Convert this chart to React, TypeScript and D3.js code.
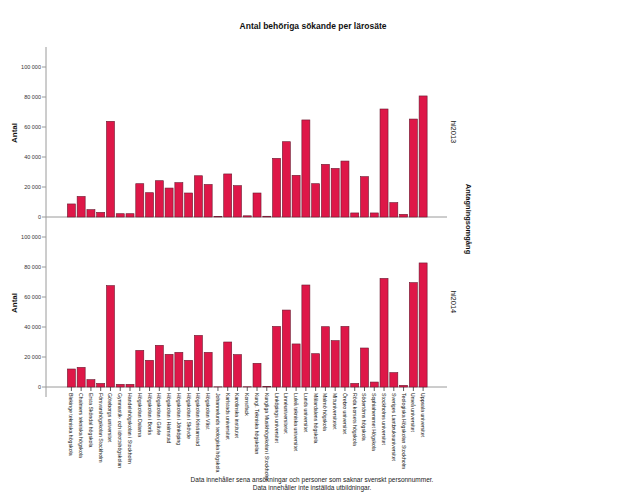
import React from "react";
import * as d3 from "d3";

const categories: string[] = [
  "Blekinge tekniska högskola",
  "Chalmers tekniska högskola",
  "Ersta Sköndal högskola",
  "Försvarshögskolan Stockholm",
  "Göteborgs universitet",
  "Gymnastik- och idrottshögskolan",
  "Handelshögskolan i Stockholm",
  "Högskolan Dalarna",
  "Högskolan i Borås",
  "Högskolan i Gävle",
  "Högskolan i Halmstad",
  "Högskolan i Jönköping",
  "Högskolan i Skövde",
  "Högskolan Kristianstad",
  "Högskolan Väst",
  "Johannelunds teologiska högskola",
  "Karlstads universitet",
  "Karolinska institutet",
  "Konstfack",
  "Kungl. Tekniska högskolan",
  "Kungliga Musikhögskolan i Stockholm",
  "Linköpings universitet",
  "Linnéuniversitetet",
  "Luleå tekniska universitet",
  "Lunds universitet",
  "Mälardalens högskola",
  "Malmö högskola",
  "Mittuniversitetet",
  "Örebro universitet",
  "Röda korsets högskola",
  "Södertörns högskola",
  "Sophiahemmet Högskola",
  "Stockholms universitet",
  "Sveriges Lantbruksuniversitet",
  "Teologiska Högskolan Stockholm",
  "Umeå universitet",
  "Uppsala universitet",
];

const ht2013: number[] = [
  8700, 13700, 4900, 3100, 63800, 2200, 2200, 22200, 16200, 24200, 19300, 22900,
  16000, 27500, 21700, 400, 28700, 20900, 800, 16000, 500, 39100, 50200, 27800,
  64700, 22200, 35100, 32400, 37300, 2700, 26900, 2700, 72000, 9600, 1800, 65300,
  80700,
];

const ht2014: number[] = [
  12000, 13100, 4900, 2400, 67600, 1800, 1800, 24400, 17800, 27800, 21800, 23100,
  17800, 34400, 23100, 100, 30000, 21600, 150, 15800, 300, 40400, 51300, 28700,
  68000, 22200, 40200, 30900, 40400, 2400, 26000, 3300, 72400, 9600, 1100, 69600,
  82700,
];

const panelLabels: string[] = ["hl2013", "hl2014"];
const yTicks: number[] = [0, 20000, 40000, 60000, 80000, 100000];

const W = 627;
const H = 501;
const FONT = "'Liberation Sans', Arial, sans-serif";
const BAR = "#DE1748";
const BAR_STROKE = "#6b1a30";
const AXIS = "#9a9a9a";

const fmt = (v: number) => (v === 0 ? "0" : d3.format(",")(v).replace(/,/g, " "));

export default function App() {
  const axisX = 46;
  const axisRight = 447;
  const x = d3
    .scaleBand<string>()
    .domain(categories)
    .range([66.5, 428])
    .paddingInner(0.18)
    .paddingOuter(0.09);

  const panels = [
    { data: ht2013, base: 217, label: panelLabels[0] },
    { data: ht2014, base: 387, label: panelLabels[1] },
  ];

  return (
    <svg width={W} height={H} style={{ position: "absolute", left: 0, top: 0, background: "#fff" }}>
      <rect x={0} y={0} width={W} height={H} fill="#fff" />
      <text x={313} y={29} textAnchor="middle" fontFamily={FONT} fontSize={8.5} fontWeight="bold" fill="#111">
        Antal behöriga sökande per lärosäte
      </text>

      {/* continuous y axis line */}
      <line x1={axisX} x2={axisX} y1={47} y2={397} stroke={AXIS} strokeWidth={1} />

      {panels.map((p, pi) => {
        const y = d3.scaleLinear().domain([0, 100000]).range([p.base, p.base - 150]);
        const mid = p.base - 84;
        return (
          <g key={pi}>
            {yTicks.map((t) => (
              <g key={t}>
                <line x1={axisX - 4} x2={axisX} y1={y(t)} y2={y(t)} stroke={AXIS} />
                <text
                  x={axisX - 5}
                  y={y(t) + 2}
                  textAnchor="end"
                  fontFamily={FONT}
                  fontSize={5.5}
                  fill="#333"
                >
                  {fmt(t)}
                </text>
              </g>
            ))}
            <line x1={axisX} x2={axisRight} y1={p.base} y2={p.base} stroke={AXIS} />
            {p.data.map((v, i) => {
              const cx = x(categories[i])!;
              return (
                <rect
                  key={i}
                  x={cx}
                  y={y(v)}
                  width={x.bandwidth()}
                  height={Math.max(0, p.base - y(v))}
                  fill={BAR}
                  stroke={BAR_STROKE}
                  strokeWidth={0.6}
                />
              );
            })}
            <text
              transform={`translate(17,${mid}) rotate(-90)`}
              textAnchor="middle"
              fontFamily={FONT}
              fontSize={8}
              fontWeight="bold"
              fill="#111"
            >
              Antal
            </text>
            <text
              transform={`translate(451,${mid - 1}) rotate(90)`}
              textAnchor="middle"
              fontFamily={FONT}
              fontSize={7.5}
              fill="#111"
            >
              {p.label}
            </text>
          </g>
        );
      })}

      <text
        transform={`translate(466,219) rotate(90)`}
        textAnchor="middle"
        fontFamily={FONT}
        fontSize={7.5}
        fontWeight="bold"
        fill="#111"
      >
        Antagningsomgång
      </text>

      {/* x ticks and labels */}
      {categories.map((c) => {
        const cx = x(c)! + x.bandwidth() / 2;
        return (
          <g key={c}>
            <line x1={cx} x2={cx} y1={387} y2={391} stroke="#333" strokeWidth={0.8} />
            <text
              transform={`translate(${cx - 2},393) rotate(90)`}
              fontFamily={FONT}
              fontSize={5.2}
              fill="#111"
            >
              {c}
            </text>
          </g>
        );
      })}

      <text x={312} y={482} textAnchor="middle" fontFamily={FONT} fontSize={6.5} fill="#222">
        Data innehåller sena ansökningar och personer som saknar svenskt personnummer.
      </text>
      <text x={312} y={490} textAnchor="middle" fontFamily={FONT} fontSize={6.5} fill="#222">
        Data innehåller inte inställda utbildningar.
      </text>
    </svg>
  );
}
